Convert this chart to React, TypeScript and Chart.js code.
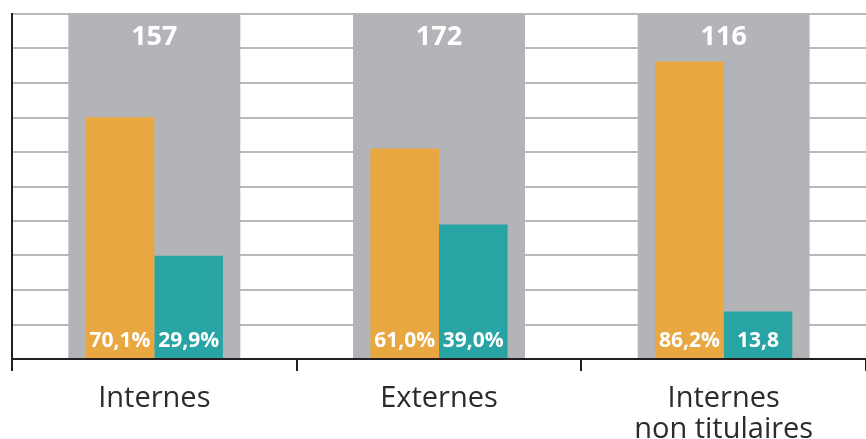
import React, { useEffect, useRef } from "react";
import { Chart, registerables } from "chart.js";

Chart.register(...registerables);

// Categories (multi-line labels as arrays)
const categories: (string | string[])[] = ["Internes", "Externes", ["Internes", "non titulaires"]];
// Share of each category (percent)
const orangeShare = [70.1, 61.0, 86.2];
const tealShare = [29.9, 39.0, 13.8];
// Headcount shown at the top of each column
const totals = [157, 172, 116];
// Whether the teal label keeps its percent sign
const tealPercentSign = [true, true, false];
// Full-height backdrop column
const backdrop = [100, 100, 100];

const GREY = "#b3b4b8";
const ORANGE = "#e8a740";
const TEAL = "#29a4a4";
const INK = "#231f20";

const fmt = (v: number, pct: boolean) => v.toFixed(1).replace(".", ",") + (pct ? "%" : "");

const valueLabels = {
  id: "valueLabels",
  afterDatasetsDraw(chart: any) {
    const { ctx } = chart;
    ctx.save();
    ctx.fillStyle = "#ffffff";
    ctx.textAlign = "center";
    ctx.textBaseline = "alphabetic";

    // totals at top of grey columns
    const greyMeta = chart.getDatasetMeta(0);
    ctx.font = "bold 27px 'Open Sans'";
    greyMeta.data.forEach((bar: any, i: number) => {
      ctx.fillText(String(totals[i]), bar.x, bar.y + 31);
    });

    // percentages at the foot of the coloured bars
    ctx.font = "bold 21px 'Open Sans'";
    const o = chart.getDatasetMeta(1);
    o.data.forEach((bar: any, i: number) => {
      ctx.fillText(fmt(orangeShare[i], true), bar.x, bar.base - 11);
    });
    const t = chart.getDatasetMeta(2);
    t.data.forEach((bar: any, i: number) => {
      ctx.fillText(fmt(tealShare[i], tealPercentSign[i]), bar.x, bar.base - 11);
    });
    ctx.restore();
  },
};

export default function App() {
  const ref = useRef<HTMLCanvasElement | null>(null);

  useEffect(() => {
    if (!ref.current) return;
    const chart = new Chart(ref.current, {
      type: "bar",
      data: {
        labels: categories as any,
        datasets: [
          {
            data: backdrop,
            backgroundColor: GREY,
            grouped: false,
            categoryPercentage: 1,
            barPercentage: 0.604,
            order: 1,
          } as any,
          {
            data: orangeShare,
            backgroundColor: ORANGE,
            categoryPercentage: 0.482,
            barPercentage: 1,
            order: 0,
          },
          {
            data: tealShare,
            backgroundColor: TEAL,
            categoryPercentage: 0.482,
            barPercentage: 1,
            order: 0,
          },
        ],
      },
      options: {
        animation: false,
        responsive: false,
        events: [],
        layout: { padding: { top: 14, left: 12, right: 0, bottom: 0 } },
        plugins: { legend: { display: false }, tooltip: { enabled: false } },
        scales: {
          x: {
            afterFit: (s: any) => {
              s.height = 80;
            },
            border: { color: INK, width: 2 },
            grid: {
              offset: true,
              drawOnChartArea: false,
              drawTicks: true,
              tickLength: 12,
              lineWidth: 2,
              color: (c: any) => (c.index >= 3 ? "rgba(0,0,0,0)" : INK),
            },
            ticks: {
              color: "#2b2b2b",
              padding: 12,
              font: { family: "'Open Sans'", size: 29, weight: 400 as any, lineHeight: 1.08 },
              maxRotation: 0,
              autoSkip: false,
            },
          },
          y: {
            min: 0,
            max: 100,
            afterFit: (s: any) => {
              s.width = 0;
            },
            border: { color: INK, width: 2 },
            grid: { color: "#b8b9bc", lineWidth: 2, drawTicks: false },
            ticks: { display: false, stepSize: 10 },
          },
        },
      },
      plugins: [valueLabels],
    });
    return () => chart.destroy();
  }, []);

  return (
    <div style={{ position: "fixed", left: 0, top: 0, width: 866, height: 439, background: "#fff" }}>
      <canvas ref={ref} width={866} height={439} style={{ width: 866, height: 439, display: "block" }} />
    </div>
  );
}
